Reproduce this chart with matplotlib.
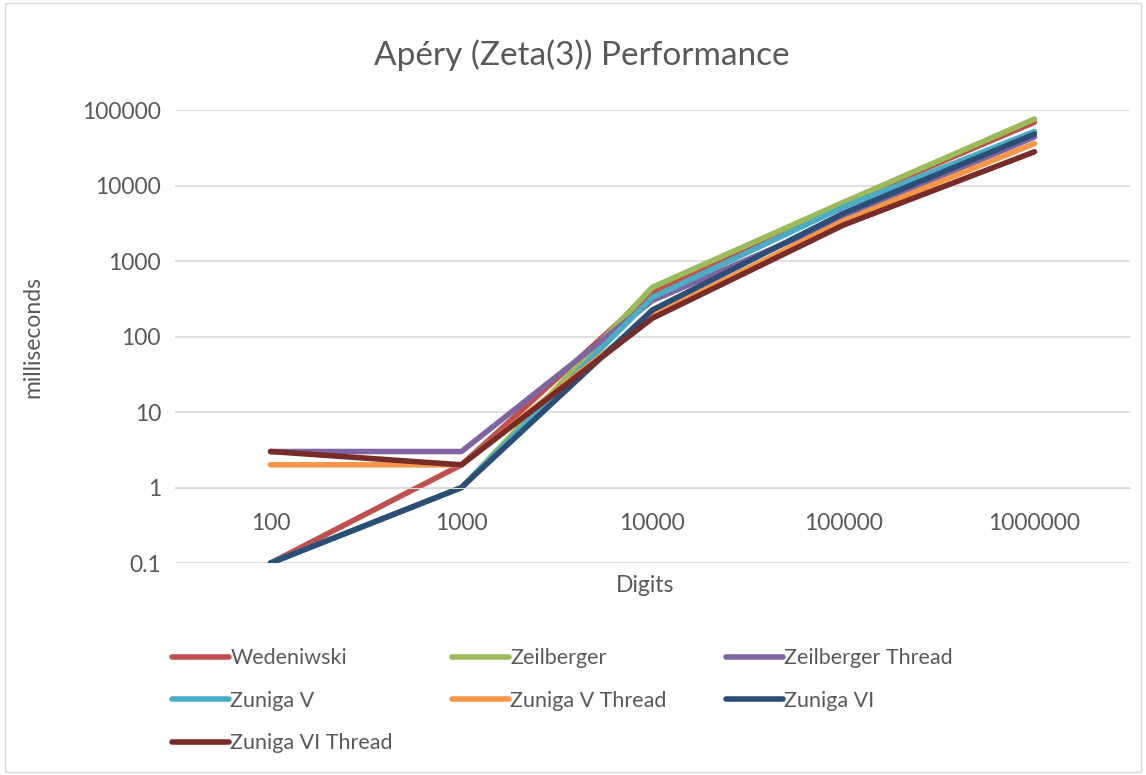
import matplotlib.pyplot as plt
from matplotlib.patches import Rectangle

digits = ['100', '1000', '10000', '100000', '1000000']

wedeniwski = [0.1, 2, 390, 5800, 69000]
zeilberger = [0.1, 1, 450, 6000, 76000]
zeilberger_thread = [3, 3, 300, 3700, 44000]
zuniga_v = [0.1, 1, 330, 5200, 52000]
zuniga_v_thread = [2, 2, 190, 3400, 36000]
zuniga_vi = [0.1, 1, 225, 4300, 48000]
zuniga_vi_thread = [3, 2, 175, 3000, 28000]

series = [
    ('Wedeniwski', wedeniwski, '#C0504D'),
    ('Zeilberger', zeilberger, '#9BBB59'),
    ('Zeilberger Thread', zeilberger_thread, '#8064A2'),
    ('Zuniga V', zuniga_v, '#4BACC6'),
    ('Zuniga V Thread', zuniga_v_thread, '#F79646'),
    ('Zuniga VI', zuniga_vi, '#2C4D75'),
    ('Zuniga VI Thread', zuniga_vi_thread, '#772C2A'),
]

plt.rcParams['font.family'] = ['Lato', 'DejaVu Sans']
txt = '#595959'

fig = plt.figure(figsize=(11.46, 7.75), dpi=100)
ax = fig.add_axes([0.1527, 0.2735, 0.8333, 0.5845])

x = list(range(len(digits)))
lines = []
for name, vals, col in series:
    l, = ax.plot(x, vals, color=col, lw=4, label=name, solid_capstyle='round', solid_joinstyle='round')
    lines.append(l)

ax.set_yscale('log')
ax.set_ylim(0.1, 100000)
ax.set_xlim(-0.5, len(digits) - 0.5)
ax.set_yticks([0.1, 1, 10, 100, 1000, 10000, 100000])
ax.set_yticklabels(['0.1', '1', '10', '100', '1000', '10000', '100000'])
ax.minorticks_off()
ax.set_xticks(x)
ax.set_xticklabels(digits)
ax.yaxis.grid(True, color='#d9d9d9', lw=1.2)
ax.set_axisbelow(True)
for s in ['top', 'right', 'left']:
    ax.spines[s].set_visible(False)
ax.spines['bottom'].set_position(('data', 1))
ax.spines['bottom'].set_color('#d9d9d9')
ax.tick_params(length=0, labelsize=16.5, labelcolor=txt)
ax.tick_params(axis='x', pad=18)
ax.tick_params(axis='y', pad=10)

fig.text(0.508, 0.929, 'Apéry (Zeta(3)) Performance', fontsize=24, color=txt, ha='center', va='center')
fig.text(0.029, 0.565, 'milliseconds', fontsize=16.5, color=txt, rotation=90, ha='center', va='center')
fig.text(0.5625, 0.245, 'Digits', fontsize=16.5, color=txt, ha='center', va='center')

# legend is filled column by column, so reorder to read row by row
order = [0, 3, 6, 1, 4, 2, 5]
fig.legend([lines[i] for i in order], [series[i][0] for i in order],
           loc='upper left', bbox_to_anchor=(0.137, 0.183), ncol=3, frameon=False,
           fontsize=15.5, handlelength=2.65, columnspacing=2.75, labelspacing=1.05,
           labelcolor=txt, handletextpad=0.05, borderpad=0.2)

fig.patches.append(Rectangle((0.004, 0.004), 0.992, 0.992, transform=fig.transFigure,
                             fill=False, edgecolor='#d9d9d9', lw=1))

fig.savefig('out.png', dpi=100)
